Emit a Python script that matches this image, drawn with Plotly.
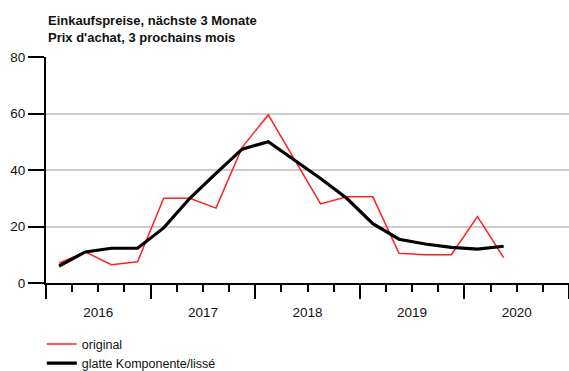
import plotly.graph_objects as go

# Quarterly survey balance: purchase prices, next 3 months
quarters = ["2016Q1", "2016Q2", "2016Q3", "2016Q4",
            "2017Q1", "2017Q2", "2017Q3", "2017Q4",
            "2018Q1", "2018Q2", "2018Q3", "2018Q4",
            "2019Q1", "2019Q2", "2019Q3", "2019Q4",
            "2020Q1", "2020Q2"]
original = [7, 11, 6.5, 7.5,
            30, 30, 26.5, 48,
            59.5, 44, 28, 30.5,
            30.5, 10.5, 10, 10,
            23.5, 9]
smoothed = [6, 11, 12.3, 12.3,
            19.5, 30, 38.8, 47.4,
            50, 43.5, 37, 30,
            21, 15.5, 13.8, 12.6,
            12, 13]
years = [2016, 2017, 2018, 2019, 2020]
year_labels = ["2016", "2017", "2018", "2019", "2020"]


def quarter_mid(q):
    # centre of the quarter on a continuous year scale
    y, n = q.split("Q")
    return int(y) + (int(n) - 0.5) / 4


x = [quarter_mid(q) for q in quarters]
x_range = [years[0], years[-1] + 1]
font = "Liberation Sans, Arial, sans-serif"

fig = go.Figure()
fig.add_trace(go.Scatter(x=x, y=original, mode="lines", name="original",
                         line=dict(color="#ff2020", width=1.5)))
fig.add_trace(go.Scatter(x=x, y=smoothed, mode="lines", name="glatte Komponente/lissé",
                         line=dict(color="#000000", width=3.2)))
# invisible trace carrying the year-label axis
fig.add_trace(go.Scatter(x=x_range, y=[None, None], xaxis="x2", showlegend=False,
                         hoverinfo="skip"))

fig.add_annotation(
    text="<b>Einkaufspreise, nächste 3 Monate</b><br><b>Prix d'achat, 3 prochains mois</b>",
    xref="paper", yref="paper", x=0, xanchor="left", y=1.205, yanchor="top",
    showarrow=False, align="left",
    font=dict(family=font, size=13, color="#111111"),
)

fig.update_layout(
    width=569, height=371,
    margin=dict(l=46, r=0, t=57, b=88, autoexpand=False),
    plot_bgcolor="white", paper_bgcolor="white",
    font=dict(family=font, size=13, color="#111111"),
    xaxis=dict(range=x_range, tickmode="array",
               tickvals=years + [years[-1] + 1], ticktext=[""] * (len(years) + 1),
               ticks="outside", ticklen=14, tickwidth=2, tickcolor="black",
               showline=True, linecolor="black", linewidth=2,
               showgrid=False, zeroline=False,
               minor=dict(dtick=0.25, tick0=years[0], ticks="outside", ticklen=7,
                          tickwidth=2, tickcolor="black", showgrid=False)),
    xaxis2=dict(overlaying="x", side="bottom", range=x_range, tickmode="array",
                tickvals=[yv + 0.5 for yv in years], ticktext=year_labels,
                ticks="outside", ticklen=17, tickcolor="rgba(0,0,0,0)",
                showline=False, showgrid=False, zeroline=False,
                tickfont=dict(size=13.5)),
    yaxis=dict(range=[0, 80], dtick=20, ticks="outside", ticklen=16, tickwidth=2,
               tickcolor="black", showline=True, linecolor="black", linewidth=2,
               gridcolor="#cccccc", gridwidth=1.5, zeroline=False,
               tickfont=dict(size=13.5)),
    legend=dict(x=-0.008, xanchor="left", y=-0.205, yanchor="top",
                bgcolor="rgba(0,0,0,0)", itemwidth=30, tracegroupgap=0,
                font=dict(size=12.5)),
    showlegend=True,
)

fig.write_html("out.html")
